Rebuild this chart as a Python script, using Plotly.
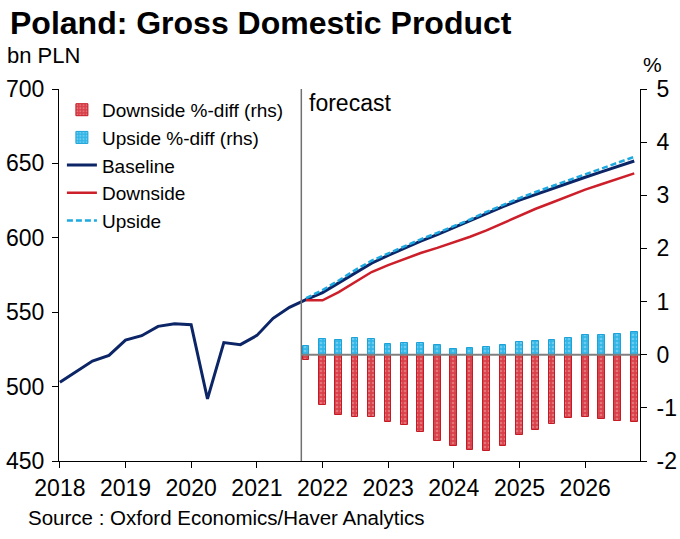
import plotly.graph_objects as go

FONT = "Liberation Sans, Arial, sans-serif"

# Quarterly dates
hist_dates = [f"{y}-{m:02d}-01" for y in range(2018, 2022) for m in (1, 4, 7, 10)]
fc_dates = [f"{y}-{m:02d}-01" for y in range(2021, 2027) for m in (1, 4, 7, 10)][3:]  # Q4 2021 .. Q4 2026
all_dates = hist_dates[:-1] + fc_dates

baseline = [502.9, 510.0, 517.2, 521.0, 531.3, 534.2, 540.5, 542.3, 541.6, 491.7,
            529.6, 528.2, 534.4, 545.9, 553.3,
            558.5, 563.2, 569.7, 576.5, 582.9, 588.2, 593.1, 597.7, 602.2, 607.0,
            611.5, 616.5, 621.0, 625.3, 629.2, 633.0, 636.8, 640.7, 644.3, 648.0, 651.6]
downside = [558.1, 558.0, 563.5, 570.3, 577.0, 581.6, 585.9, 589.8, 593.2, 597.0, 600.7,
            605.0, 609.8, 615.0, 619.5, 623.7, 628.2, 632.4, 636.0, 639.7, 643.3]
upside = [559.4, 564.9, 571.3, 578.3, 584.6, 589.4, 594.4, 599.0, 603.3, 607.6, 612.3,
          617.4, 622.1, 626.7, 630.8, 634.7, 638.8, 643.0, 646.7, 650.6, 654.4]
down_diff = [-0.09, -0.95, -1.135, -1.18, -1.166, -1.26, -1.33, -1.46, -1.62, -1.71, -1.80,
             -1.81, -1.72, -1.52, -1.42, -1.31, -1.19, -1.166, -1.21, -1.24, -1.266]
up_diff = [0.163, 0.295, 0.276, 0.313, 0.295, 0.20, 0.22, 0.22, 0.18, 0.107, 0.13,
           0.15, 0.18, 0.23, 0.25, 0.276, 0.313, 0.364, 0.38, 0.395, 0.426]

year_ticks = [f"{y}-01-01" for y in range(2018, 2027)]
year_labels = [str(y) for y in range(2018, 2027)]
rhs_ticks = [-2, -1, 0, 1, 2, 3, 4, 5]
rhs_labels = ["-2", "-1", "0", "1", "2", "3", "4", "5"]
lhs_ticks = [450, 500, 550, 600, 650, 700]
forecast_date = "2021-09-05"
x_start = "2017-12-27"
x_end = "2026-11-02"

BAR_W = 37 * 86400000

fig = go.Figure()
fig.add_trace(go.Bar(
    x=fc_dates, y=down_diff, yaxis="y2", name="Downside %-diff (rhs)", width=BAR_W,
    marker=dict(color="#d8404a", line=dict(color="#c41a24", width=1),
                pattern=dict(shape=".", bgcolor="#d8404a", fgcolor="#f0a6aa", size=4, solidity=0.35)),
))
fig.add_trace(go.Bar(
    x=fc_dates, y=up_diff, yaxis="y2", name="Upside %-diff (rhs)", width=BAR_W,
    marker=dict(color="#33b6e6", line=dict(color="#1ca2d8", width=1),
                pattern=dict(shape=".", bgcolor="#33b6e6", fgcolor="#a6e0f5", size=4, solidity=0.35)),
))
fig.add_trace(go.Scatter(x=all_dates, y=baseline, mode="lines", name="Baseline",
                         line=dict(color="#0b2566", width=3)))
fig.add_trace(go.Scatter(x=fc_dates, y=downside, mode="lines", name="Downside",
                         line=dict(color="#cc1f2a", width=2.5)))
fig.add_trace(go.Scatter(x=fc_dates, y=upside, mode="lines", name="Upside",
                         line=dict(color="#1ea9e0", width=2.5, dash="6px,3px")))

# forecast divider and zero line on rhs
fig.add_shape(type="line", xref="x", yref="paper", x0=forecast_date, x1=forecast_date, y0=0, y1=1,
              line=dict(color="#707070", width=1.5))
fig.add_shape(type="line", xref="x", yref="y2", x0=forecast_date, x1=x_end, y0=0, y1=0,
              line=dict(color="#808080", width=2))

fig.add_annotation(text="forecast", xref="x", yref="paper", x=forecast_date, y=0.962,
                   xanchor="left", yanchor="middle", xshift=6, showarrow=False,
                   font=dict(family=FONT, size=23, color="black"))
fig.add_annotation(text="bn PLN", xref="paper", yref="paper", x=-0.093, y=1.09,
                   xanchor="left", yanchor="middle", showarrow=False,
                   font=dict(family=FONT, size=22, color="black"))
fig.add_annotation(text="%", xref="paper", yref="paper", x=1.0207, y=1.066,
                   xanchor="center", yanchor="middle", showarrow=False,
                   font=dict(family=FONT, size=21, color="black"))
fig.add_annotation(text="Source : Oxford Economics/Haver Analytics", xref="paper", yref="paper",
                   x=-0.057, y=-0.153, xanchor="left", yanchor="middle", showarrow=False,
                   font=dict(family=FONT, size=20.5, color="black"))

fig.update_layout(
    width=680, height=539,
    margin=dict(l=59, r=40, t=89, b=78, autoexpand=False),
    paper_bgcolor="white", plot_bgcolor="white",
    barmode="overlay", bargap=0,
    title=dict(text="<b>Poland: Gross Domestic Product</b>", xref="container", yref="container",
               x=10 / 680, y=1 - 23 / 539, xanchor="left", yanchor="middle",
               font=dict(family=FONT, size=32, color="black")),
    showlegend=True,
    legend=dict(x=0.005, y=0.995, xanchor="left", yanchor="top", bgcolor="rgba(0,0,0,0)",
                font=dict(family=FONT, size=19, color="black"), tracegroupgap=0,
                traceorder="normal"),
    xaxis=dict(type="date", range=[x_start, x_end], tickvals=year_ticks, ticktext=year_labels,
               ticks="outside", ticklen=6, tickcolor="black", showline=True, linecolor="black",
               linewidth=1, showgrid=False, zeroline=False, automargin=False,
               tickfont=dict(family=FONT, size=23, color="black")),
    yaxis=dict(range=[450, 700], tickvals=lhs_ticks, ticks="outside", ticklen=6, tickcolor="black",
               showline=True, linecolor="black", linewidth=1, showgrid=False, zeroline=False,
               ticklabelstandoff=3, automargin=False,
               tickfont=dict(family=FONT, size=23, color="black")),
    yaxis2=dict(overlaying="y", side="right", range=[-2, 5], tickvals=rhs_ticks, ticktext=rhs_labels,
                ticks="outside", ticklen=6, tickcolor="black", showline=True, linecolor="black",
                linewidth=1, showgrid=False, zeroline=False, ticklabelstandoff=5, automargin=False,
                tickfont=dict(family=FONT, size=23, color="black")),
)

fig.write_html("out.html")
